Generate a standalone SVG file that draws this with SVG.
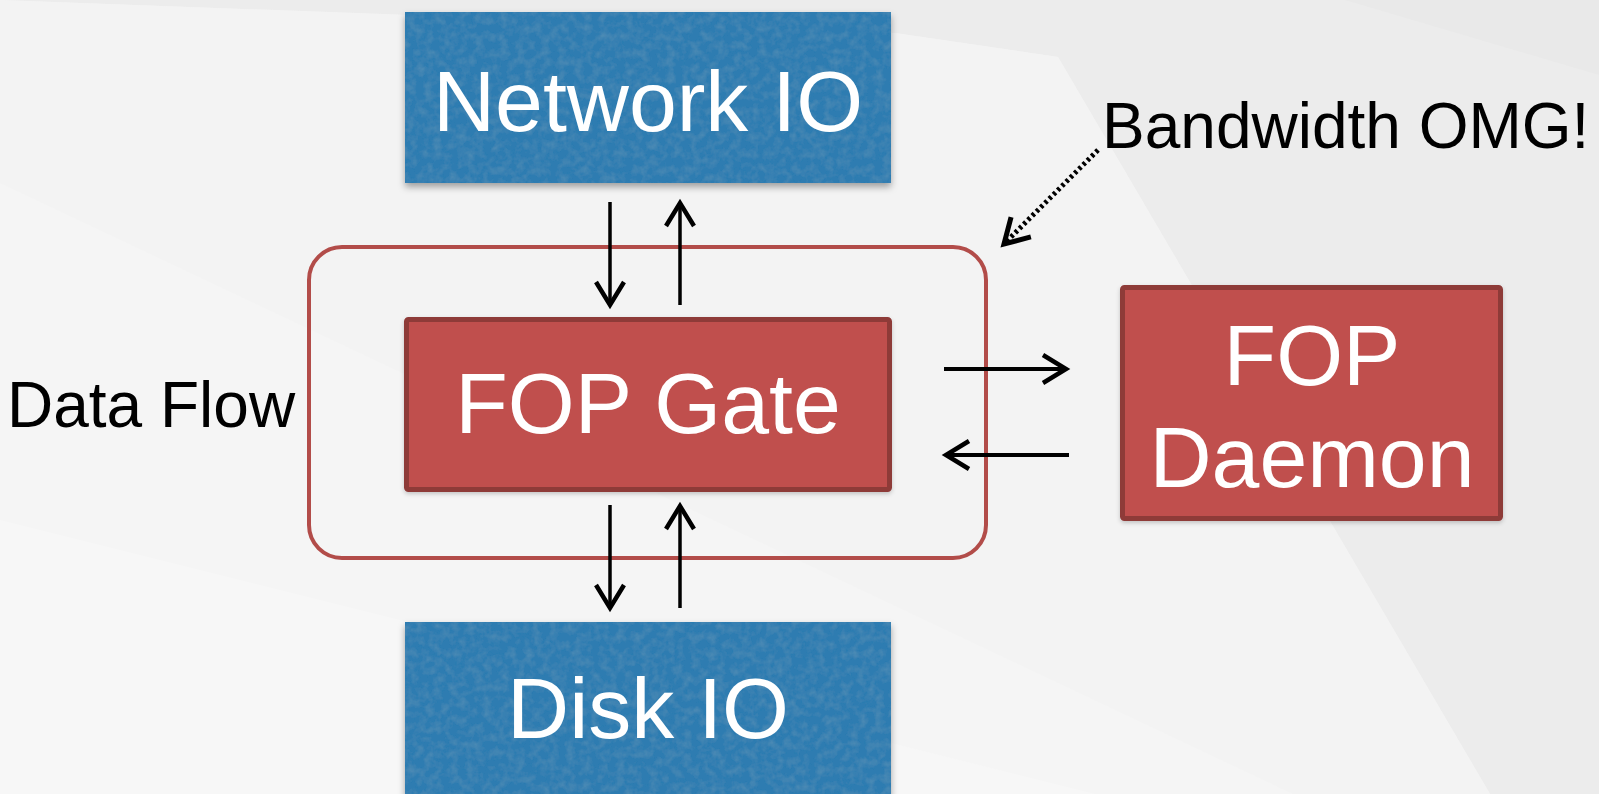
<svg xmlns="http://www.w3.org/2000/svg" width="1599" height="794" viewBox="0 0 1599 794">
  <defs>
    <style>
      .bg-base { fill: #f2f2f2; }
      .io-box { fill: #2f7cb1; }
      .fop-box { fill: #c0504d; stroke: #8e3b39; stroke-width: 5; }
      .group-frame { fill: none; stroke: #b24c49; stroke-width: 4; }
      .label-white { font-family: "Liberation Sans", Arial, Helvetica, sans-serif; fill: #ffffff; text-anchor: middle; font-size: 86px; }
      .label-black { font-family: "Liberation Sans", Arial, Helvetica, sans-serif; fill: #000000; font-size: 64px; }
      .flow { fill: none; stroke: #000000; stroke-width: 3.5; marker-end: url(#chevron); }
      .flow-h { stroke-width: 4; }
      .callout { fill: none; stroke: #000000; stroke-width: 5; stroke-dasharray: 3 3; marker-end: url(#chevron-solid); }
    </style>
    <!-- open arrowhead, drawn in user units so every connector gets the same size -->
    <marker id="chevron" markerUnits="userSpaceOnUse" viewBox="-30 -20 34 40" refX="0" refY="0" markerWidth="34" markerHeight="40" orient="auto" overflow="visible">
      <path d="M-23,-14 L0,0 L-23,14" fill="none" stroke="#000" stroke-width="4.5"/>
    </marker>
    <marker id="chevron-solid" markerUnits="userSpaceOnUse" viewBox="-30 -20 34 40" refX="0" refY="0" markerWidth="34" markerHeight="40" orient="auto" overflow="visible">
      <path d="M-24,-14 L0,0 L-24,14" fill="none" stroke="#000" stroke-width="5" stroke-dasharray="none"/>
    </marker>
    <!-- soft drop shadow under the boxes -->
    <filter id="shadow" x="-10%" y="-10%" width="120%" height="130%">
      <feDropShadow dx="0" dy="4" stdDeviation="3.5" flood-color="#000" flood-opacity="0.35"/>
    </filter>
    <filter id="shadow-light" x="-10%" y="-10%" width="120%" height="130%">
      <feDropShadow dx="0" dy="2" stdDeviation="2" flood-color="#000" flood-opacity="0.2"/>
    </filter>
    <!-- fine paper grain for the blue boxes -->
    <filter id="grain" x="0" y="0" width="100%" height="100%">
      <feTurbulence type="fractalNoise" baseFrequency="0.12" numOctaves="3" seed="7" result="noise"/>
      <feColorMatrix in="noise" type="matrix" values="0 0 0 0 0.12  0 0 0 0 0.32  0 0 0 0 0.48  0 0 0 0.9 -0.35" result="tint"/>
      <feComposite in="tint" in2="SourceGraphic" operator="in" result="grainIn"/>
      <feMerge>
        <feMergeNode in="SourceGraphic"/>
        <feMergeNode in="grainIn"/>
      </feMerge>
    </filter>
  </defs>

  <!-- faceted light-grey backdrop -->
  <g id="background">
    <rect class="bg-base" x="0" y="0" width="1599" height="794"/>
    <polygon points="0,0 1599,0 1599,794 1490,794 1058,57 895,33 0,0" fill="#ececec"/>
    <polygon points="1345,0 1599,0 1599,75" fill="#e9e9e9"/>
    <polygon points="0,0 895,33 1058,57 1490,794 0,794" fill="#f3f3f3"/>
    <polygon points="0,183 1293,794 0,794" fill="#f5f5f5"/>
    <polygon points="0,520 1095,794 0,794" fill="#f7f7f7"/>
  </g>

  <g id="data-flow-label">
    <text class="label-black" x="7" y="427">Data Flow</text>
  </g>

  <g id="gate-frame">
    <rect class="group-frame" x="309" y="247" width="677" height="311" rx="33" ry="33"/>
  </g>

  <g id="network-io">
    <g filter="url(#shadow)">
      <rect class="io-box" x="405" y="12" width="486" height="171" filter="url(#grain)"/>
    </g>
    <text class="label-white" x="648" y="131">Network IO</text>
  </g>

  <g id="fop-gate">
    <rect class="fop-box" x="406.5" y="319.5" width="483" height="170" rx="2" filter="url(#shadow-light)"/>
    <text class="label-white" x="648" y="433">FOP Gate</text>
  </g>

  <g id="fop-daemon">
    <rect class="fop-box" x="1122.5" y="287.5" width="378" height="231" rx="2" filter="url(#shadow-light)"/>
    <text class="label-white" x="1312" y="385">FOP</text>
    <text class="label-white" x="1312" y="487">Daemon</text>
  </g>

  <g id="disk-io">
    <g filter="url(#shadow)">
      <rect class="io-box" x="405" y="622" width="486" height="190" filter="url(#grain)"/>
    </g>
    <text class="label-white" x="648" y="738">Disk IO</text>
  </g>

  <g id="bandwidth-note">
    <text class="label-black" x="1102" y="148">Bandwidth OMG!</text>
  </g>

  <g id="connectors">
    <line class="flow" x1="610" y1="202" x2="610" y2="305"/>
    <line class="flow" x1="680" y1="305" x2="680" y2="203"/>
    <line class="flow" x1="610" y1="505" x2="610" y2="608"/>
    <line class="flow" x1="680" y1="608" x2="680" y2="506"/>
    <line class="flow flow-h" x1="944" y1="369" x2="1066" y2="369"/>
    <line class="flow flow-h" x1="1069" y1="455" x2="946" y2="455"/>
    <line class="callout" x1="1098" y1="150" x2="1004" y2="244"/>
  </g>
</svg>
